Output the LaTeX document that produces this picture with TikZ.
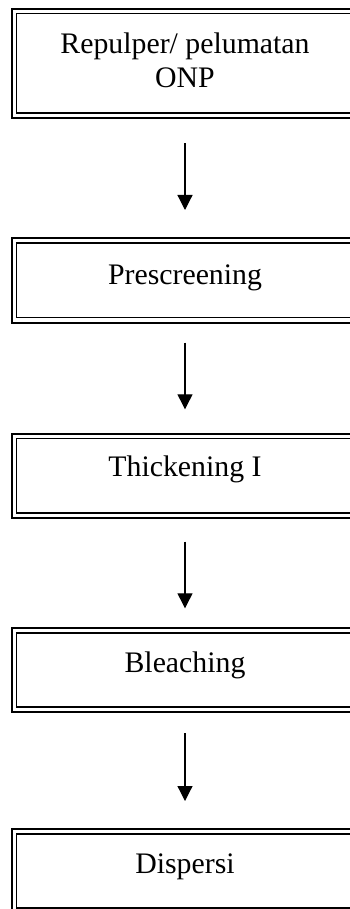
\documentclass[tikz,border=0pt]{standalone}
\usepackage{fontspec}
\setmainfont{Liberation Serif}
\usetikzlibrary{arrows.meta}
\begin{document}
\begin{tikzpicture}[x=1pt,y=1pt,
  procbox/.style={draw, line width=2pt, minimum width=347pt, inner sep=0pt, outer sep=0pt},
  innerline/.style={draw, line width=1.3pt},
  txt/.style={font=\fontsize{29.8}{33.6}\selectfont, align=center, inner sep=0pt, anchor=base},
  flow/.style={line width=1.2pt, -{Triangle[width=15pt,length=15pt]}}]
\useasboundingbox (0,0) rectangle (350,-909);
\clip (0,0) rectangle (350,-909);
\node[procbox, minimum height=109.3pt] (b1) at (185,-63.35) {};
\node[procbox, minimum height=84.5pt] (b2) at (185,-280.25) {};
\node[procbox, minimum height=84.5pt] (b3) at (185,-475.75) {};
\node[procbox, minimum height=84pt] (b4) at (185,-670) {};
\node[procbox, minimum height=84pt] (b5) at (185,-871) {};
\foreach \b in {b1,b2,b3,b4,b5}
  \draw[innerline] ([shift={(5pt,-5pt)}]\b.north west) rectangle ([shift={(-5pt,5pt)}]\b.south east);
\node[txt] (t1) at (185,-87.3) {Repulper/ pelumatan\\ONP};
\node[txt] (t2) at (185,-284) {Prescreening};
\node[txt] (t3) at (185,-476.5) {Thickening I};
\node[txt] (t4) at (185,-672) {Bleaching};
\node[txt] (t5) at (185,-873) {Dispersi};
\draw[flow, shorten <=25.3pt, shorten >=28pt] (b1.south) -- (b2.north);
\draw[flow, shorten <=20.2pt, shorten >=24.2pt] (b2.south) -- (b3.north);
\draw[flow, shorten <=23.7pt, shorten >=19.7pt] (b3.south) -- (b4.north);
\draw[flow, shorten <=21.3pt, shorten >=28pt] (b4.south) -- (b5.north);
\end{tikzpicture}
\end{document}
